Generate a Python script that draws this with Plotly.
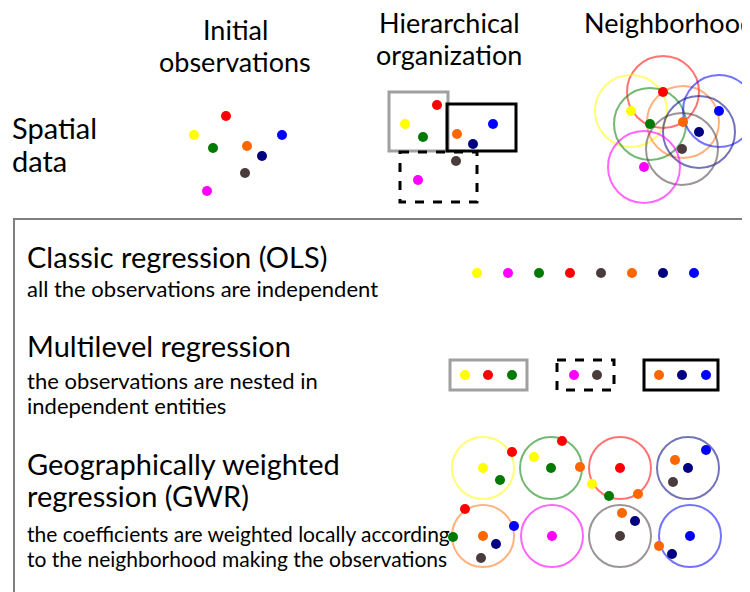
import plotly.graph_objects as go

W, H = 750, 592
PAGE_OFFSET = 8  # default body margin of the html page
FONT = "Lato"

# colour of each observation
colors = {
    "yellow": "#FFFF00", "magenta": "#FF00FF", "green": "#007A00", "red": "#FF0000",
    "brown": "#4A3C3C", "orange": "#FF6600", "navy": "#000080", "blue": "#0000FF",
}
ring_colors = {
    "yellow": "rgba(255,255,0,0.55)", "magenta": "rgba(255,0,255,0.6)",
    "green": "rgba(0,128,0,0.55)", "red": "rgba(255,0,0,0.55)",
    "brown": "rgba(74,60,60,0.55)", "orange": "rgba(255,102,0,0.5)",
    "navy": "rgba(0,0,128,0.55)", "blue": "rgba(0,0,255,0.55)",
}

# Panel 1: initial observations
init_names = ["red", "yellow", "blue", "green", "orange", "navy", "brown", "magenta"]
init_x = [226, 194, 282, 213, 247, 262, 245, 207]
init_y = [116, 135, 135, 148, 146, 156, 173, 191]

# Panel 2: hierarchical organization
hier_names = ["red", "yellow", "green", "orange", "blue", "navy", "brown", "magenta"]
hier_x = [437, 405, 423, 457, 493, 473, 456, 418]
hier_y = [105, 124, 137, 134, 124, 144, 161, 180]
hier_boxes = [  # x0, y0, x1, y1, style
    (389, 92, 448, 151, "gray"),
    (447, 104, 516, 151, "black"),
    (400, 152, 477, 202, "dash"),
]

# Panel 3: neighborhood
nb_names = ["red", "yellow", "green", "orange", "blue", "navy", "brown", "magenta"]
nb_x = [663, 631, 650, 683, 719, 699, 682, 644]
nb_y = [92, 111, 124, 122, 111, 132, 149, 167]
nb_radius = 36

# OLS row
ols_names = ["yellow", "magenta", "green", "red", "brown", "orange", "navy", "blue"]
ols_x = [477, 508, 539, 570, 601, 632, 663, 694]
ols_y = 273

# Multilevel row
ml_names = ["yellow", "red", "green", "magenta", "brown", "orange", "navy", "blue"]
ml_x = [465, 488, 512, 574, 597, 659, 682, 706]
ml_y = 375
ml_boxes = [
    (450, 360, 527, 390, "gray"),
    (557, 360, 614, 390, "dash"),
    (644, 360, 718, 390, "black"),
]

# GWR row: circles (centre colour, cx, cy) and the points inside each
gwr_circles = [
    ("yellow", 483, 468), ("green", 551, 468), ("red", 620, 468), ("navy", 688, 468),
    ("orange", 483, 536), ("magenta", 552, 536), ("brown", 620, 536), ("blue", 690, 536),
]
gwr_radius = 31
gwr_pts_names = [
    "yellow", "red", "green",
    "green", "red", "yellow", "orange",
    "red", "yellow", "green", "orange",
    "navy", "blue", "orange", "brown",
    "orange", "red", "blue", "green", "navy", "brown",
    "magenta",
    "brown", "orange", "navy",
    "blue", "orange", "navy",
]
gwr_pts_x = [483, 512, 500, 551, 562, 534, 580, 620, 592, 609, 638, 688, 706, 675, 673,
             483, 465, 514, 453, 496, 481, 552, 620, 622, 635, 690, 659, 672]
gwr_pts_y = [468, 452, 480, 468, 441, 457, 467, 468, 484, 496, 494, 468, 450, 460, 482,
             536, 509, 526, 537, 544, 558, 536, 536, 513, 521, 536, 546, 554]

fig = go.Figure()
shapes = []


def box_shape(x0, y0, x1, y1, style):
    if style == "gray":
        line = dict(color="#A0A0A0", width=3)
    elif style == "black":
        line = dict(color="#000000", width=3)
    else:
        line = dict(color="#000000", width=3, dash="dash")
    return dict(type="rect", xref="x", yref="y", x0=x0, y0=y0, x1=x1, y1=y1,
                line=line, fillcolor="rgba(0,0,0,0)", layer="below")


def circle_shape(cx, cy, r, name):
    return dict(type="circle", xref="x", yref="y", x0=cx - r, y0=cy - r, x1=cx + r, y1=cy + r,
                line=dict(color=ring_colors[name], width=2), fillcolor="rgba(0,0,0,0)",
                layer="below")


for b in hier_boxes:
    shapes.append(box_shape(*b))
for b in ml_boxes:
    shapes.append(box_shape(*b))
for n, x, y in zip(nb_names, nb_x, nb_y):
    shapes.append(circle_shape(x, y, nb_radius, n))
for n, x, y in gwr_circles:
    shapes.append(circle_shape(x, y, gwr_radius, n))

# big frame
shapes.append(dict(type="rect", xref="x", yref="y", x0=14, y0=219, x1=770, y1=620,
                   line=dict(color="#7F7F7F", width=2), fillcolor="rgba(0,0,0,0)", layer="below"))


def add_points(names, xs, ys):
    fig.add_trace(go.Scatter(
        x=xs, y=ys, mode="markers",
        marker=dict(size=10, color=[colors[n] for n in names], line=dict(width=0)),
        hoverinfo="skip", showlegend=False))


add_points(init_names, init_x, init_y)
add_points(hier_names, hier_x, hier_y)
add_points(nb_names, nb_x, nb_y)
add_points(ols_names, ols_x, [ols_y] * len(ols_x))
add_points(ml_names, ml_x, [ml_y] * len(ml_x))
add_points(gwr_pts_names, gwr_pts_x, gwr_pts_y)

# texts: (text, x, y, size, anchor)
texts = [
    ("Initial", 235, 29, 27, "center"),
    ("observations", 235, 61, 27, "center"),
    ("Hierarchical", 449, 22, 27, "center"),
    ("organization", 449, 54, 27, "center"),
    ("Neighborhood", 582, 22, 27, "left"),
    ("Spatial", 10, 127, 29, "left"),
    ("data", 10, 160, 29, "left"),
    ("Classic regression (OLS)", 25, 256, 29, "left"),
    ("all the observations are independent", 25, 288, 22, "left"),
    ("Multilevel regression", 25, 345, 29, "left"),
    ("the observations are nested in", 25, 380, 22, "left"),
    ("independent entities", 25, 405, 22, "left"),
    ("Geographically weighted", 25, 463, 29, "left"),
    ("regression (GWR)", 25, 495, 29, "left"),
    ("the coefficients are weighted locally according", 25, 533, 21, "left"),
    ("to the neighborhood making the observations", 25, 558, 21, "left"),
]
annotations = [
    dict(text=t, x=x, y=y, xref="x", yref="y", xanchor=a, yanchor="middle",
         showarrow=False, font=dict(family=FONT, size=s, color="#000000"))
    for t, x, y, s, a in texts
]

fig.update_layout(
    width=W, height=H, margin=dict(l=0, r=0, t=0, b=0),
    paper_bgcolor="white", plot_bgcolor="white",
    xaxis=dict(range=[PAGE_OFFSET, W + PAGE_OFFSET], visible=False, fixedrange=True),
    yaxis=dict(range=[H + PAGE_OFFSET, PAGE_OFFSET], visible=False, fixedrange=True),
    shapes=shapes, annotations=annotations,
)
fig.write_html("out.html")
